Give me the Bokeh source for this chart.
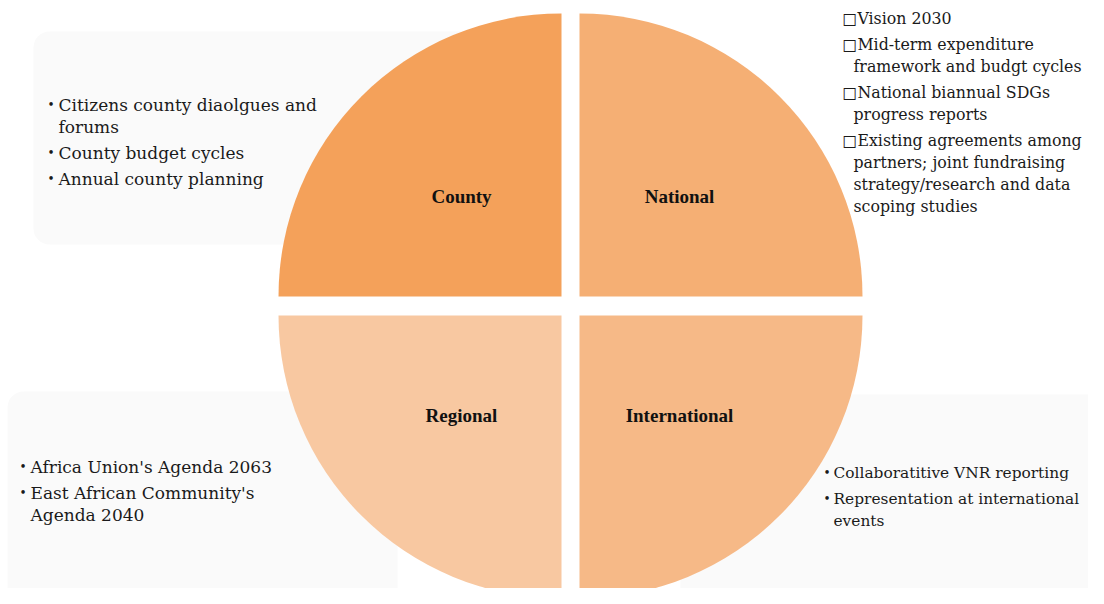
import numpy as np
from bokeh.plotting import figure
from bokeh.models import Range1d, BoxAnnotation, ColumnDataSource
from bokeh.core.properties import value
from bokeh.embed import file_html
from bokeh.resources import INLINE

# ---------------- data ----------------
quadrants = ["County", "National", "Regional", "International"]
quadrant_colors = ["#F4A15A", "#F5AF74", "#F8C8A1", "#F6B987"]

county_items = [["Citizens county diaolgues and", "forums"],
                ["County budget cycles"],
                ["Annual county planning"]]
national_items = [["Vision 2030"],
                  ["Mid-term expenditure", "framework and budgt cycles"],
                  ["National biannual SDGs", "progress reports"],
                  ["Existing agreements among", "partners; joint fundraising",
                   "strategy/research and data", "scoping studies"]]
regional_items = [["Africa Union's Agenda 2063"],
                  ["East African Community's", "Agenda 2040"]]
international_items = [["Collaboratitive VNR reporting"],
                       ["Representation at international", "events"]]

# ---------------- layout ----------------
W, H = 1104, 604
def Y(py):
    return H - py

p = figure(width=1088, height=588, x_range=Range1d(0, 1088), y_range=Range1d(12, 600),
           output_backend="svg", toolbar_location=None, min_border=0,
           x_axis_type=None, y_axis_type=None)
p.grid.visible = False
p.outline_line_color = None
p.background_fill_color = "white"
p.border_fill_color = "white"

# faint rounded text boxes
for (l, r, t, b) in [(33, 477, 35, 248), (7, 397, 395, 620), (680, 1110, 398, 620)]:
    p.add_layout(BoxAnnotation(left=l, right=r, top=Y(t), bottom=Y(b),
                               fill_color="#FAFAFA", fill_alpha=1.0, line_color=None,
                               border_radius=16, level="underlay"))

# quadrants
cx, cy = 570, Y(309.5)
gx, gy = 9, 9.5
R = 283
sx = np.array([-1, 1, -1, 1])
sy = np.array([1, 1, -1, -1])
start = np.arctan2(sy, sx) - np.pi / 4
src = ColumnDataSource(dict(
    x=cx + sx * gx, y=cy + sy * gy,
    start=start, end=start + np.pi / 2,
    color=quadrant_colors, name=quadrants,
    lx=cx + sx * gx + sx * 100, ly=cy + sy * gy + sy * 100,
))
p.wedge(x="x", y="y", radius=R, start_angle="start", end_angle="end",
        fill_color="color", line_color=None, source=src)
p.text(x="lx", y="ly", text="name", source=src, text_align="center",
       text_baseline="middle", text_font=value("Liberation Serif"),
       text_font_style="bold", text_font_size="19px", text_color="#111111")

FONT = value("DejaVu Serif")

def block(items, marker_x, text_x, y0, marker, size="17px", step=22, gap=4, inline_marker=False):
    xs, ys, ts = [], [], []
    mx, my, mt = [], [], []
    y = y0
    for item in items:
        for i, line in enumerate(item):
            if i == 0:
                if inline_marker:
                    xs.append(marker_x); ts.append(marker + line)
                else:
                    mx.append(marker_x); my.append(Y(y)); mt.append(marker)
                    xs.append(text_x); ts.append(line)
            else:
                xs.append(text_x); ts.append(line)
            ys.append(Y(y))
            y += step
        y += gap
    p.text(x=xs, y=ys, text=ts, text_font=FONT, text_font_size=size,
           text_baseline="middle", text_align="left", text_color="#1a1a1a")
    if mx:
        p.text(x=mx, y=my, text=mt, text_font=FONT, text_font_size="12px",
               text_baseline="middle", text_align="left", text_color="#1a1a1a")

block(county_items, 47, 58, 108, "•")
block(national_items, 842, 853, 22, "□", size="15.8px", inline_marker=True)
block(regional_items, 19, 30, 470, "•")
block(international_items, 823, 833, 476, "•", size="15.4px")

open("out.html", "w").write(file_html(p, INLINE))
